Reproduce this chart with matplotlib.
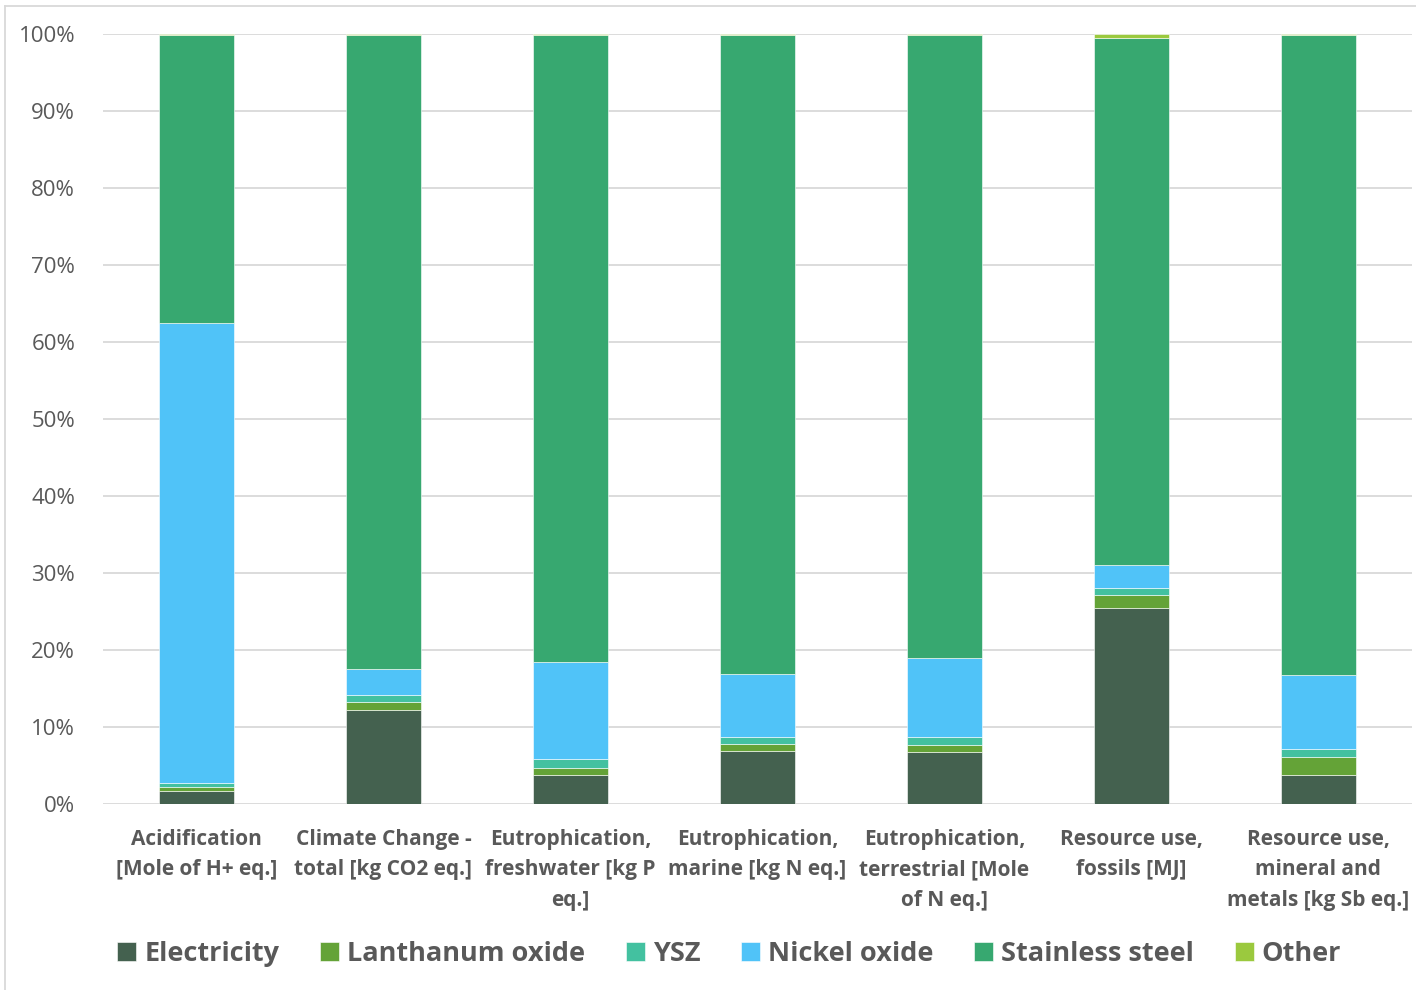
import matplotlib.pyplot as plt
from matplotlib.lines import Line2D
import numpy as np

# Anteile je Wirkungskategorie in %
categories = [
    "Acidification\n[Mole of H+ eq.]",
    "Climate Change -\ntotal [kg CO2 eq.]",
    "Eutrophication,\nfreshwater [kg P\neq.]",
    "Eutrophication,\nmarine [kg N eq.]",
    "Eutrophication,\nterrestrial [Mole\nof N eq.]",
    "Resource use,\nfossils [MJ]",
    "Resource use,\nmineral and\nmetals [kg Sb eq.]",
]
electricity = [1.7, 12.2, 3.7, 6.9, 6.8, 25.4, 3.8]
lanthanum_oxide = [0.5, 1.1, 1.0, 0.9, 0.8, 1.7, 2.3]
ysz = [0.5, 0.9, 1.1, 0.9, 1.1, 1.0, 1.0]
nickel_oxide = [59.8, 3.3, 12.7, 8.2, 10.3, 2.9, 9.7]
other = [0.1, 0.2, 0.2, 0.2, 0.2, 0.5, 0.2]
stainless_steel = [100 - (a + b + c + d + e) for a, b, c, d, e in
                   zip(electricity, lanthanum_oxide, ysz, nickel_oxide, other)]

series = [
    ("Electricity", electricity, "#44614f"),
    ("Lanthanum oxide", lanthanum_oxide, "#64a337"),
    ("YSZ", ysz, "#43c1a0"),
    ("Nickel oxide", nickel_oxide, "#50c3f8"),
    ("Stainless steel", stainless_steel, "#37a870"),
    ("Other", other, "#9bc93e"),
]

plt.rcParams['font.family'] = ['Open Sans', 'DejaVu Sans']
grey = "#595959"

fig = plt.figure(figsize=(14.16, 9.9), dpi=100)
ax = fig.add_axes([0.0727, 0.1879, 0.9243, 0.7778])

x = np.arange(len(categories))
bottom = np.zeros(len(categories))
for name, vals, col in series:
    vals = np.array(vals, dtype=float)
    ax.bar(x, vals, bottom=bottom, width=0.40, color=col, label=name,
           edgecolor="white", linewidth=0.4, zorder=3)
    bottom += vals

ax.set_xlim(-0.5, len(categories) - 0.5)
ax.set_ylim(0, 100)
ax.set_yticks(np.arange(0, 101, 10))
ax.set_yticklabels([f"{v}%" for v in range(0, 101, 10)], fontsize=16, color=grey)
ax.set_xticks(x)
ax.set_xticklabels(categories, fontsize=15, color=grey, fontweight="bold",
                   linespacing=1.58)
ax.tick_params(axis="both", length=0)
ax.tick_params(axis="x", pad=18)
ax.tick_params(axis="y", pad=20)
ax.grid(axis="y", color="#d9d9d9", linewidth=1.3, zorder=0)
for s in ax.spines.values():
    s.set_visible(False)

# Rahmen des Diagrammbereichs (links und oben)
fig.add_artist(Line2D([5 / 1416, 5 / 1416], [0, 1 - 6 / 990],
                      transform=fig.transFigure, color="#d9d9d9", linewidth=1.3))
fig.add_artist(Line2D([5 / 1416, 1], [1 - 6 / 990, 1 - 6 / 990],
                      transform=fig.transFigure, color="#d9d9d9", linewidth=1.3))

fig.legend(loc="center", bbox_to_anchor=(0.515, 0.036), ncol=6, frameon=False,
           handlelength=0.7, handleheight=0.7, handletextpad=0.3,
           columnspacing=1.5, prop={"size": 19.5, "weight": "bold"},
           labelcolor=grey)

fig.savefig("out.png", dpi=100)
